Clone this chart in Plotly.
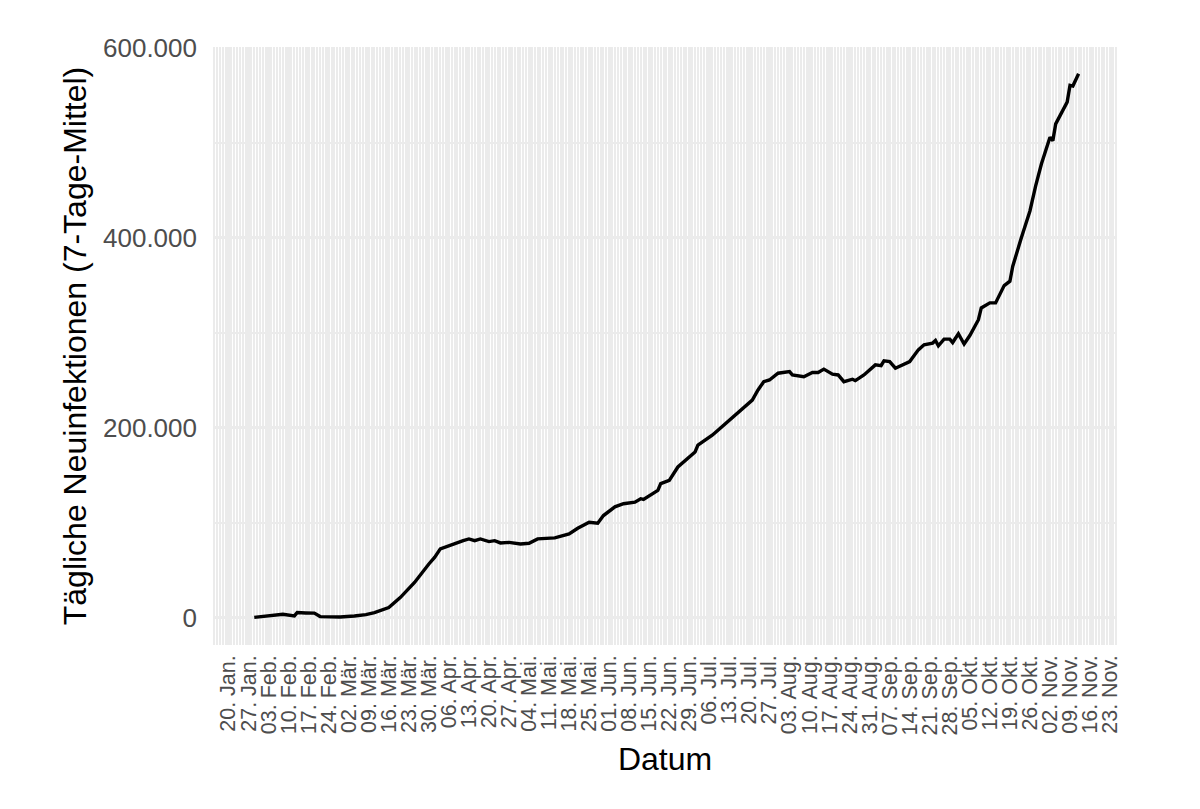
import plotly.graph_objects as go

# Daily new infections, 7-day mean
dates = [
    "2020-01-29", "2020-02-03", "2020-02-08", "2020-02-12", "2020-02-13", "2020-02-16",
    "2020-02-19", "2020-02-21", "2020-02-25", "2020-02-28", "2020-03-04", "2020-03-08",
    "2020-03-11", "2020-03-16", "2020-03-20", "2020-03-23", "2020-03-25", "2020-03-30",
    "2020-04-01", "2020-04-03", "2020-04-06", "2020-04-08", "2020-04-11", "2020-04-13",
    "2020-04-15", "2020-04-17", "2020-04-20", "2020-04-22", "2020-04-24", "2020-04-27",
    "2020-05-01", "2020-05-04", "2020-05-07", "2020-05-13", "2020-05-18", "2020-05-21",
    "2020-05-25", "2020-05-28", "2020-05-30", "2020-06-03", "2020-06-06", "2020-06-10",
    "2020-06-12", "2020-06-13", "2020-06-18", "2020-06-19", "2020-06-22", "2020-06-25",
    "2020-06-29", "2020-07-01", "2020-07-02", "2020-07-07", "2020-07-09", "2020-07-13",
    "2020-07-15", "2020-07-18", "2020-07-21", "2020-07-23", "2020-07-25", "2020-07-27",
    "2020-07-30", "2020-08-03", "2020-08-04", "2020-08-08", "2020-08-11", "2020-08-13",
    "2020-08-15", "2020-08-18", "2020-08-20", "2020-08-22", "2020-08-25", "2020-08-26",
    "2020-08-29", "2020-09-02", "2020-09-04", "2020-09-05", "2020-09-07", "2020-09-09",
    "2020-09-12", "2020-09-14", "2020-09-17", "2020-09-19", "2020-09-22", "2020-09-23",
    "2020-09-24", "2020-09-26", "2020-09-28", "2020-09-29", "2020-10-01", "2020-10-03",
    "2020-10-05", "2020-10-07", "2020-10-08", "2020-10-09", "2020-10-12", "2020-10-14",
    "2020-10-17", "2020-10-19", "2020-10-20", "2020-10-23", "2020-10-26", "2020-10-28",
    "2020-10-30", "2020-11-02", "2020-11-03", "2020-11-04", "2020-11-06", "2020-11-08",
    "2020-11-09", "2020-11-10", "2020-11-12",
]
cases_7d = [
    500, 2500, 3900, 2100, 5600, 5200,
    5000, 1400, 800, 1000, 2000, 3500,
    5600, 10900, 21400, 30300, 37300, 56700,
    63700, 72600, 76100, 78500, 81300, 83100,
    81300, 83100, 80300, 81300, 78900, 79500,
    77800, 78500, 83100, 84200, 88400, 94300,
    100700, 99600, 107700, 116900, 120100, 121800,
    125400, 124600, 134100, 141200, 144700, 158800,
    169300, 174600, 181700, 192200, 197500, 208100,
    213400, 220500, 229200, 239800, 248500, 250300,
    257400, 259100, 255600, 253800, 258100, 258100,
    261700, 256400, 255600, 248500, 251100, 249600,
    255600, 266200, 265400, 270400, 269700, 262700,
    266900, 269700, 282000, 287300, 289100, 291800,
    286300, 293300, 293300, 289700, 298900, 288100,
    297100, 307400, 313700, 326100, 331400, 331400,
    349600, 354200, 370000, 400000, 428100, 454500,
    477500, 505600, 502100, 519700, 530300, 542600,
    560200, 559500, 572500,
]

tick_dates = [
    "2020-01-20", "2020-01-27", "2020-02-03", "2020-02-10", "2020-02-17", "2020-02-24",
    "2020-03-02", "2020-03-09", "2020-03-16", "2020-03-23", "2020-03-30", "2020-04-06",
    "2020-04-13", "2020-04-20", "2020-04-27", "2020-05-04", "2020-05-11", "2020-05-18",
    "2020-05-25", "2020-06-01", "2020-06-08", "2020-06-15", "2020-06-22", "2020-06-29",
    "2020-07-06", "2020-07-13", "2020-07-20", "2020-07-27", "2020-08-03", "2020-08-10",
    "2020-08-17", "2020-08-24", "2020-08-31", "2020-09-07", "2020-09-14", "2020-09-21",
    "2020-09-28", "2020-10-05", "2020-10-12", "2020-10-19", "2020-10-26", "2020-11-02",
    "2020-11-09", "2020-11-16", "2020-11-23",
]
tick_labels = [
    "20. Jan.", "27. Jan.", "03. Feb.", "10. Feb.", "17. Feb.", "24. Feb.",
    "02. Mär.", "09. Mär.", "16. Mär.", "23. Mär.", "30. Mär.", "06. Apr.",
    "13. Apr.", "20. Apr.", "27. Apr.", "04. Mai.", "11. Mai.", "18. Mai.",
    "25. Mai.", "01. Jun.", "08. Jun.", "15. Jun.", "22. Jun.", "29. Jun.",
    "06. Jul.", "13. Jul.", "20. Jul.", "27. Jul.", "03. Aug.", "10. Aug.",
    "17. Aug.", "24. Aug.", "31. Aug.", "07. Sep.", "14. Sep.", "21. Sep.",
    "28. Sep.", "05. Okt.", "12. Okt.", "19. Okt.", "26. Okt.", "02. Nov.",
    "09. Nov.", "16. Nov.", "23. Nov.",
]
y_ticks = [0, 200000, 400000, 600000]
y_minor = [100000, 300000, 500000]

FONT = "Liberation Sans, Arial, Helvetica, sans-serif"
GRID = "#EBEBEB"

fig = go.Figure()
fig.add_trace(go.Scatter(
    x=dates, y=cases_7d, mode="lines",
    line=dict(color="black", width=3.4),
    showlegend=False, hoverinfo="x+y",
))

fig.update_layout(
    width=1200, height=809,
    margin=dict(l=205, r=91, t=39, b=172, autoexpand=False),
    paper_bgcolor="white", plot_bgcolor="white",
    separators=",.",
    font=dict(family=FONT, color="black"),
)

fig.update_xaxes(
    type="date",
    range=["2020-01-14 14:00", "2020-11-25 10:00"],
    tickmode="array", tickvals=tick_dates, ticktext=tick_labels,
    tickangle=-90,
    tickfont=dict(size=21.5, color="#4D4D4D", family=FONT),
    ticks="", showline=False, zeroline=False,
    showgrid=True, gridcolor=GRID, gridwidth=2.5,
    minor=dict(tickmode="linear", tick0="2020-01-14", dtick=86400000,
               showgrid=True, gridcolor=GRID, gridwidth=1.5, ticks=""),
    ticklabelstandoff=5,
    title=dict(text="Datum", font=dict(size=32, color="black", family=FONT), standoff=13),
)

fig.update_yaxes(
    range=[-28500, 600600],
    tickmode="array", tickvals=y_ticks, tickformat=",.0f",
    tickfont=dict(size=26, color="#4D4D4D", family=FONT),
    ticks="", showline=False, zeroline=False,
    showgrid=True, gridcolor=GRID, gridwidth=2.5,
    minor=dict(tickmode="array", tickvals=y_minor,
               showgrid=True, gridcolor=GRID, gridwidth=1.5, ticks=""),
    ticklabelstandoff=15,
    title=dict(text="Tägliche Neuinfektionen (7-Tage-Mittel)",
               font=dict(size=32, color="black", family=FONT), standoff=6),
)

fig.write_html("out.html")
